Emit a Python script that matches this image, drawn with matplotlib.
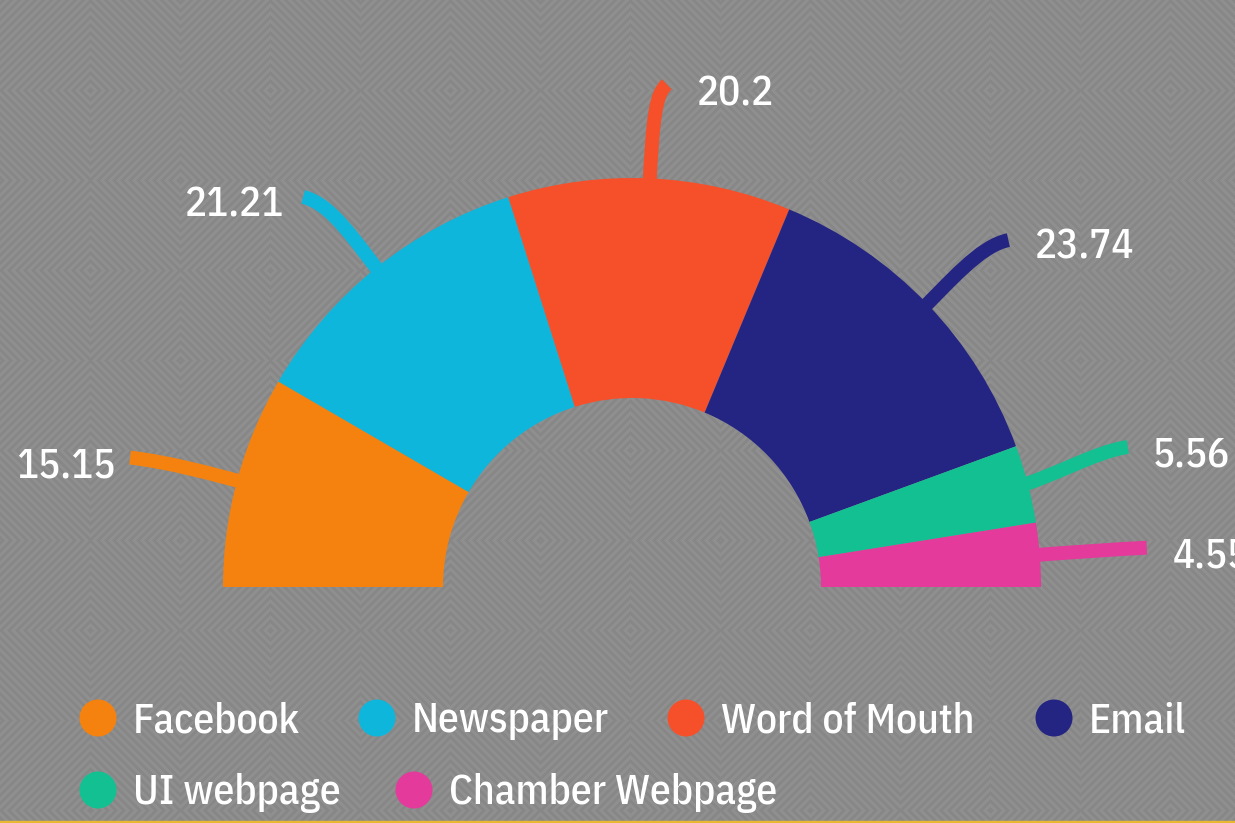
import numpy as np
import matplotlib.pyplot as plt
from matplotlib.patches import Wedge, Circle, PathPatch
from matplotlib.path import Path

# --- DATA ---
categories = ['Facebook', 'Newspaper', 'Word of Mouth', 'Email', 'UI webpage', 'Chamber Webpage']
values = [15.15, 21.21, 20.2, 23.74, 5.56, 4.55]
value_labels = ['15.15', '21.21', '20.2', '23.74', '5.56', '4.55']
colors = ['#F5820F', '#0FB6DB', '#F5502A', '#242483', '#13C091', '#E43A9B']

# --- LAYOUT (pixels, y up) ---
W, H = 1235, 823
CX, CY = 632, 236
R_OUT, R_IN = 409, 189

# leader: end offset from slice outer mid point, end direction, control lengths
leader_end = [(-107, 23), (-73, 71), (17, 94), (81, 64), (100, 37), (107, 7)]
leader_dir = [(-1, 0.12), (-1, 0.25), (0.75, 0.65), (1, 0.2), (1, 0.15), (1, 0.05)]
leader_ctrl = [(30, 40), (35, 30), (65, 14), (30, 30), (25, 35), (30, 30)]
label_off = [(-15, -8), (-19, -8), (30, -10), (27, -7), (25, -8), (26, -8)]
label_ha = ['right', 'right', 'left', 'left', 'left', 'left']

legend_x = [98, 377, 686, 1054, 98, 414]
legend_y = [H - 718, H - 718, H - 718, H - 718, H - 790, H - 790]

FONT = ['IBM Plex Sans Condensed', 'DejaVu Sans']

fig = plt.figure(figsize=(W / 100, H / 100), dpi=100)

# background pattern
bg = fig.add_axes([0, 0, 1, 1])
yy, xx = np.mgrid[0:H, 0:W]
T = 180
u = (xx % T) - T / 2
v = (yy % T) - T / 2
d = np.abs(u) + np.abs(v)
stripe = (d // 4).astype(int) % 2
img = np.where(stripe == 1, 0x8f, 0x87) / 255.0
bg.imshow(np.dstack([img, img, img]), extent=[0, W, 0, H], aspect='auto')
bg.axis('off')

ax = fig.add_axes([0, 0, 1, 1])
ax.set_xlim(0, W)
ax.set_ylim(0, H)
ax.axis('off')
ax.patch.set_alpha(0)

total = sum(values)
start = 180.0
for i, val in enumerate(values):
    span = val / total * 180.0
    t1, t2 = start - span, start
    ax.add_patch(Wedge((CX, CY), R_OUT, t1, t2, width=R_OUT - R_IN,
                       facecolor=colors[i], edgecolor='none', zorder=3))
    mid = np.radians((t1 + t2) / 2)
    ux, uy = np.cos(mid), np.sin(mid)
    ox, oy = CX + R_OUT * ux, CY + R_OUT * uy
    a, b = leader_ctrl[i]
    ex, ey = ox + leader_end[i][0], oy + leader_end[i][1]
    dx, dy = leader_dir[i]
    n = np.hypot(dx, dy)
    dx, dy = dx / n, dy / n
    verts = [(ox - 15 * ux, oy - 15 * uy),
             (ox + a * ux, oy + a * uy),
             (ex - b * dx, ey - b * dy),
             (ex, ey)]
    path = Path(verts, [Path.MOVETO, Path.CURVE4, Path.CURVE4, Path.CURVE4])
    ax.add_patch(PathPatch(path, facecolor='none', edgecolor=colors[i],
                           lw=10, capstyle='butt', zorder=2))
    ax.text(ex + label_off[i][0], ey + label_off[i][1], value_labels[i],
            ha=label_ha[i], va='center', color='white', fontsize=29.5,
            family=FONT, weight=500, zorder=4)
    start = t1

# legend
for i, name in enumerate(categories):
    ax.add_patch(Circle((legend_x[i], legend_y[i]), 18.5, facecolor=colors[i],
                        edgecolor='none', zorder=3))
    ax.text(legend_x[i] + 35, legend_y[i] - 3, name, ha='left', va='center',
            color='white', fontsize=30, family=FONT, weight=500, zorder=4)

# thin yellow strip at the bottom
ax.axhspan(0, 2.5, color='#E8B830', zorder=5)

fig.savefig('out.png', dpi=100)
